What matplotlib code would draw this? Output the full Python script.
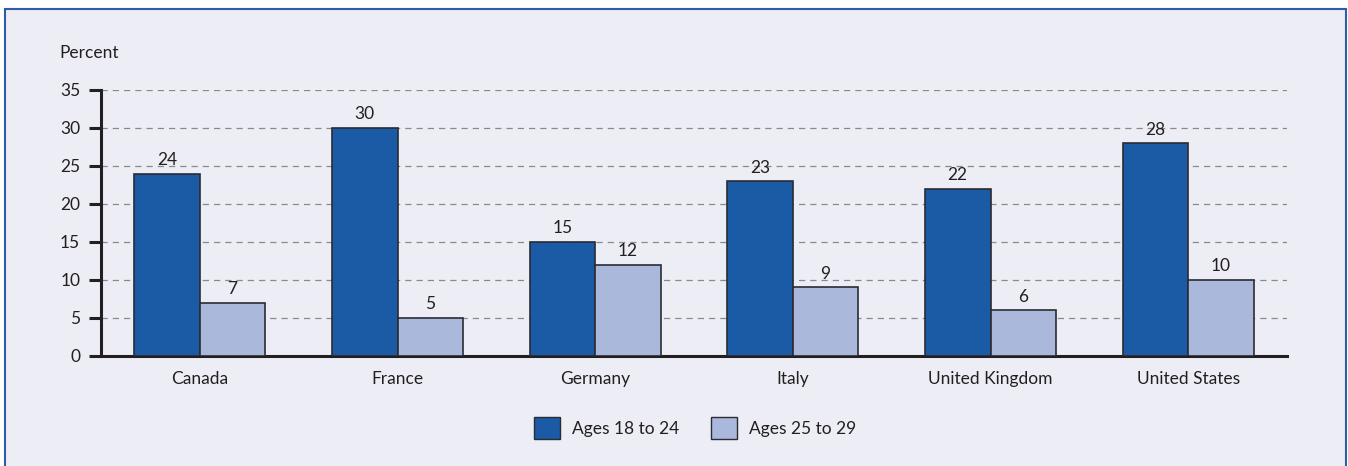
import matplotlib.pyplot as plt
from matplotlib.patches import Rectangle, Patch
import numpy as np

countries = ['Canada', 'France', 'Germany', 'Italy', 'United Kingdom', 'United States']
ages_18_24 = [24, 30, 15, 23, 22, 28]
ages_25_29 = [7, 5, 12, 9, 6, 10]
yticks = [0, 5, 10, 15, 20, 25, 30, 35]

dark = '#1B5AA5'
light = '#AAB8DB'
bg = '#EDEEF5'
ink = '#231F20'

plt.rcParams['font.family'] = ['Lato', 'DejaVu Sans']

fig = plt.figure(figsize=(13.48, 4.66), dpi=100)
fig.patch.set_facecolor('white')

# panel with blue frame (kept behind the axes)
fig.patches.append(Rectangle((5 / 1348, -0.01), 1341 / 1348, 1 - 9 / 466 + 0.01,
                             transform=fig.transFigure, facecolor=bg,
                             edgecolor='#2C5EA8', linewidth=1.5, zorder=-10))

ax = fig.add_axes([101 / 1348, 1 - 355.7 / 466, 1186 / 1348, 265.7 / 466])
ax.set_facecolor('none')
ax.set_zorder(5)

x = np.arange(len(countries))
w = 0.332
b1 = ax.bar(x - w / 2, ages_18_24, w, color=dark, edgecolor='#2B2B33', linewidth=1.2, zorder=3)
b2 = ax.bar(x + w / 2, ages_25_29, w, color=light, edgecolor='#2B2B33', linewidth=1.2, zorder=3)

for bars, vals in ((b1, ages_18_24), (b2, ages_25_29)):
    for rect, v in zip(bars, vals):
        ax.annotate(str(v), (rect.get_x() + rect.get_width() / 2, v),
                    xytext=(0, 4), textcoords='offset points',
                    ha='center', va='bottom', fontsize=12.5, color=ink)

ax.set_xlim(-0.5, 5.5)
ax.set_ylim(0, 35)
ax.set_yticks(yticks)
ax.set_xticks(x)
ax.set_xticklabels(countries)
ax.tick_params(axis='x', length=0, pad=11, labelsize=12.5, colors=ink)
ax.tick_params(axis='y', length=9, width=2.2, pad=6, labelsize=12.5, colors=ink)

for s in ('top', 'right'):
    ax.spines[s].set_visible(False)
for s in ('left', 'bottom'):
    ax.spines[s].set_color(ink)
    ax.spines[s].set_linewidth(2.2)

ax.yaxis.grid(True, linestyle=(0, (5, 4)), color='#8A8A8A', linewidth=0.9, zorder=0)
ax.set_axisbelow(True)

fig.text(59 / 1348, 1 - 53 / 466, 'Percent', fontsize=12.5, color=ink, va='center', ha='left')

handles = [Patch(facecolor=dark, edgecolor='#2B2B33', label='Ages 18 to 24'),
           Patch(facecolor=light, edgecolor='#2B2B33', label='Ages 25 to 29')]
fig.legend(handles=handles, loc='center', bbox_to_anchor=(695 / 1348, 1 - 428 / 466),
           ncol=2, frameon=False, fontsize=12.5, handlelength=1.5, handleheight=1.5,
           columnspacing=1.8, handletextpad=0.7, labelcolor=ink)

fig.savefig('out.png', dpi=100, facecolor=fig.get_facecolor())
